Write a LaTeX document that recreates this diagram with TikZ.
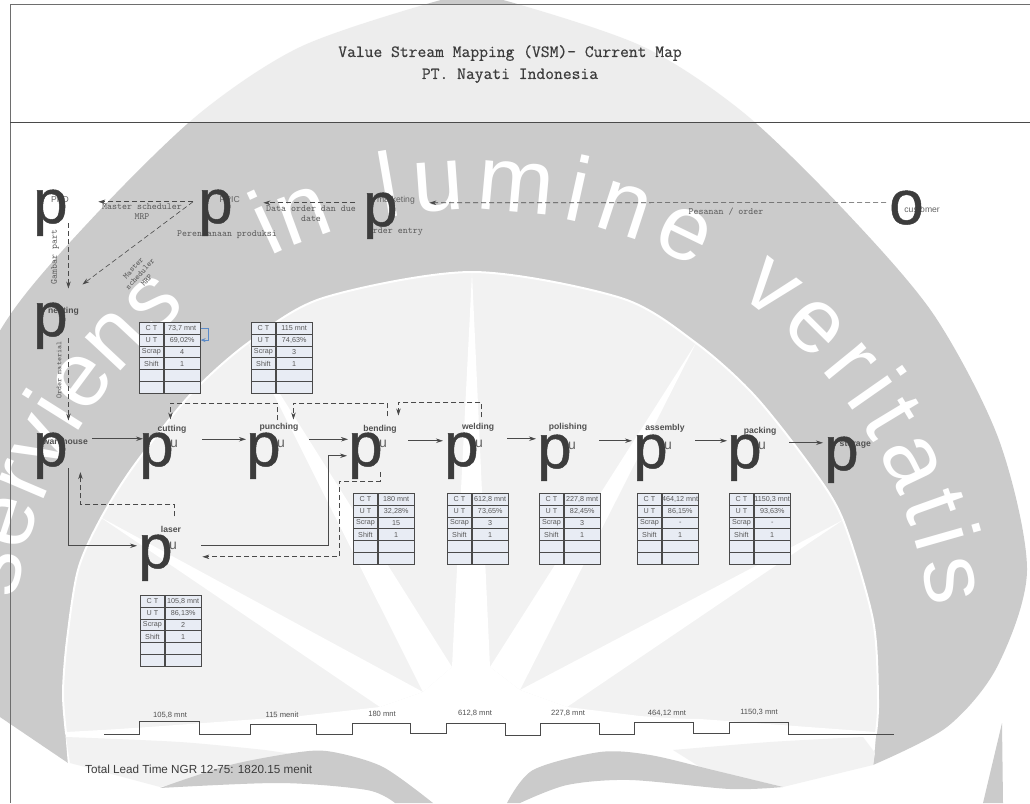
\documentclass[tikz,border=0pt]{standalone}
\usepackage{fontspec}
\setmainfont{Liberation Sans}
\newfontfamily\glyphfont[FakeBold=0.8]{Liberation Sans}
\newfontfamily\titlefont[FakeBold=0.5]{Latin Modern Mono}
\usetikzlibrary{arrows.meta,decorations.text}
\definecolor{wmgray}{HTML}{CBCBCB}
\definecolor{wmlight}{HTML}{F2F2F2}
\definecolor{inkgray}{HTML}{3C3C3C}
\definecolor{linegray}{HTML}{4A4A4A}
\definecolor{cellblue}{HTML}{E8ECF4}
\definecolor{loopblue}{HTML}{5B8BC9}

% one data box: name, top left corner, CT, UT, scrap, shift
\newcommand{\databox}[6]{%
  \foreach \i/\lab/\val in {0/C T/{#3},1/U T/{#4},2/Scrap/{#5},3/Shift/{#6},4//,5//} {
    \node[leftcell, yshift={-11.8*\i}] (#1l\i) at (#2) {\lab};
    \node[rightcell] (#1r\i) at (#1l\i.north east) {\val};
  }%
}
% one word of the crest text on its arc: start angle, end angle, word
\newcommand{\crestword}[3]{%
  \path[decorate, decoration={text along path, text color=white, text align={fit to path}, text={|\fontsize{92}{92}\selectfont|#3}}] ({472+462*cos(#1)},{-672+462*sin(#1)}) arc[start angle=#1, end angle=#2, radius=462];%
}

\begin{document}
\begin{tikzpicture}[
    x=1pt, y=-1pt,
    procglyph/.style={font=\fontsize{62}{62}\glyphfont\selectfont, text=inkgray, inner sep=0pt, anchor=base west},
    procu/.style={font=\fontsize{14}{14}\selectfont, text=inkgray!80, inner sep=0pt, anchor=base west},
    proclabel/.style={font=\fontsize{8.6}{10}\selectfont\bfseries, text=inkgray!90, inner sep=0pt},
    thinlabel/.style={font=\fontsize{8.6}{10}\selectfont, text=inkgray!80, inner sep=0pt},
    monolabel/.style={font=\fontsize{9.5}{9.8}\ttfamily\selectfont, text=inkgray!85, inner sep=0pt, align=center},
    timelabel/.style={font=\fontsize{7.6}{9}\selectfont, text=inkgray!90, inner sep=0pt},
    leftcell/.style={draw=linegray, fill=cellblue, line width=0.8pt, inner sep=0pt, anchor=north west, minimum width=24pt, minimum height=11.8pt, font=\fontsize{7.2}{8}\selectfont, text=inkgray!85},
    rightcell/.style={leftcell, minimum width=36pt},
    flow/.style={draw=linegray, line width=0.8pt, -{Stealth[length=7pt,width=4.5pt]}},
    info/.style={draw=linegray, line width=0.6pt, dash pattern=on 5pt off 3pt, -{Stealth[length=7pt,width=4.5pt]}}
]
\useasboundingbox (0,0) rectangle (1030,803);

% watermark
\fill[wmgray] plot[smooth] coordinates {(-83,570) (-55,440) (10,315) (100,210) (200,113) (300,47) (430,3) (472,-3) (514,3) (644,47) (744,113) (844,210) (934,315) (999,440) (1027,570) (997,667) (947,727) (873,765)} -- (68,763) -- (0,717) -- (-83,660) -- cycle;
\fill[wmgray] (1002,723) -- (983,803) -- (1003,803) -- cycle;
\fill[white] plot[smooth] coordinates {(68,765) (63,693) (67,640) (78,570) (100,520) (133,467) (190,395) (248,343) (323,298) (472,272) (621,298) (696,343) (754,395) (811,467) (843,520) (873,620) (878,700) (873,767)} -- cycle;
\draw[white, line width=2pt, fill=wmlight] plot[smooth] coordinates {(66,733) (63,693) (67,640) (78,570) (100,520) (133,467) (190,395) (248,343) (323,298) (472,272) (621,298) (696,343) (754,395) (811,467) (843,520) (873,620) (878,700) (876,733)} -- (700,720) -- (472,716) -- (300,720) -- cycle;
\fill[white] (472,273) -- (490,667) -- (452,667) -- cycle;
\fill[white] (248,343) -- (452,667) -- (423,692) -- cycle;
\fill[white] (100,517) -- (423,692) -- (380,707) -- cycle;
\fill[white] (696,343) -- (520,690) -- (490,667) -- cycle;
\fill[white] (843,520) -- (520,690) -- (567,707) -- cycle;
\fill[white] (380,707) -- (423,692) -- (452,667) -- (490,667) -- (520,690) -- (567,707) -- (640,716) -- (300,716) -- cycle;
\fill[white] (66,733) -- (300,716) -- (640,716) -- (876,733) -- (870,745) -- (472,745) -- (70,740) -- cycle;
\fill[wmlight] plot[smooth] coordinates {(66,737) (180,742) (265,750)} -- (300,755) -- (160,787) -- (70,763) -- cycle;
\fill[wmlight] plot[smooth] coordinates {(673,750) (770,742) (863,737)} -- (875,753) -- (873,765) -- (783,787) -- (700,767) -- cycle;
\fill[wmgray] plot[smooth] coordinates {(160,788) (230,765) (300,752) (333,752) (383,767) (433,803)} -- (395,803) -- plot[smooth] coordinates {(395,803) (367,790) (280,783) (160,788)} -- cycle;
\fill[wmgray] plot[smooth] coordinates {(507,803) (533,770) (600,752) (650,755) (713,770) (783,787)} -- plot[smooth] coordinates {(783,787) (730,789) (630,780) (567,785) (520,803)} -- cycle;
\begin{scope}[y=1pt]
\crestword{171}{128}{serviens}
\crestword{116}{107}{in}
\crestword{101}{61}{lumine}
\crestword{55}{8}{veritatis}
\end{scope}
\fill[white, opacity=.67] (10,4) rectangle (1030,122);

% frame and title
\draw[linegray!80, line width=0.9pt] (1030,4) -- (10,4) -- (10,803);
\draw[linegray, line width=0.9pt] (10,122) -- (1030,122);
\node[font=\fontsize{17.1}{22}\titlefont\selectfont, text=inkgray, align=center, inner sep=0pt] (title) at (510,64) {Value Stream Mapping (VSM)- Current Map\\PT. Nayati Indonesia};

% labels under the big letters
\node[thinlabel, anchor=east] (ppdlabel) at (69,200) {PPD};
\node[thinlabel, anchor=east] (ppiclabel) at (240,200) {PPIC};
\node[thinlabel, anchor=east] (marketinglabel) at (415,200) {marketing};
\node[thinlabel, anchor=east] (customerlabel) at (940,210) {customer};
\node[proclabel, anchor=east] (nestinglabel) at (79,311) {nesting};
\node[proclabel, anchor=east] (warehouselabel) at (88,441) {warehouse};
\node[proclabel, anchor=east] (storagelabel) at (871,445) {storage};
\node[monolabel] (mrplabel) at (142,212) {Master scheduler\\MRP};
\node[monolabel] (datalabel) at (311,214) {Data order dan due\\date};
\node[monolabel] (planlabel) at (227,235) {Perencanaan produksi};
\node[monolabel, anchor=east] (entrylabel) at (423,232) {order entry};
\node[monolabel] (orderlabel) at (726,212) {Pesanan / order};
\node[monolabel, rotate=90] (partlabel) at (55,257) {Gambar part};
\node[monolabel, rotate=90, font=\fontsize{7.6}{8}\ttfamily\selectfont] (materiallabel) at (59,370) {Order material};
\node[monolabel, rotate=48, font=\fontsize{8.2}{9}\ttfamily\selectfont] (mrpslant) at (140,274) {Master\\scheduler\\MRP};

% stations
\node[procglyph] (ppd) at (33,223) {p};
\node[procglyph] (ppic) at (198,223) {p};
\node[procglyph] (marketing) at (363,226) {p};
\node[procglyph] (customer) at (889,224) {o};
\node[procglyph] (nesting) at (33,336) {p};
\node[procglyph] (warehouse) at (33,466) {p};
\node[procglyph] (storage) at (824,470) {p};
\foreach \name/\x/\y/\lx/\ly in {cutting/139/466/172/429, punching/246/466/279/427, bending/348/466/380/429, welding/444/466/478/427, polishing/537/468/568/427, assembly/633/468/665/428, packing/727/468/760/431, laser/138/568/171/529} {
    \node[proclabel] (\name label) at (\lx,\ly) {\name};
    \node[procglyph] (\name) at (\x,\y) {p};
    \node[procu] (\name u) at ([shift={(31,-19)}]\name.base west) {u};
}

% data boxes
\databox{nestbox}{139,322}{73,7 mnt}{69,02\%}{4}{1}
\databox{cutbox}{251,322}{115 mnt}{74,63\%}{3}{1}
\databox{laserbox}{140,595}{105,8 mnt}{86,13\%}{2}{1}
\databox{bendbox}{353,493}{180 mnt}{32,28\%}{15}{1}
\databox{weldbox}{447,493}{612,8 mnt}{73,65\%}{3}{1}
\databox{polbox}{539,493}{227,8 mnt}{82,45\%}{3}{1}
\databox{asmbox}{637,493}{464,12 mnt}{86,15\%}{-}{1}
\databox{packbox}{729,493}{1150,3 mnt}{93,63\%}{-}{1}
\draw[loopblue, line width=0.9pt, -{Stealth[length=5pt,width=4pt]}] (nestboxr0.east) -- ++(8,0) |- (nestboxr1.east);

% material flow
\foreach \a/\b/\sx/\sy/\ex/\ey in {warehouse/cutting/24.5/-17/4/-17, cutting/punching/28.5/-16.5/0/-16.5, punching/bending/28.5/-16.5/0/-16.5, bending/welding/25.5/-15/-1/-15, welding/polishing/28.5/-17/-1/-19, polishing/assembly/27.5/-17/-1/-17, assembly/packing/27.5/-17/0/-17, packing/storage/27.5/-15/-1/-17} {
    \draw[flow] ([shift={(\sx,\sy)}]\a.east) -- ([shift={(\ex,\ey)}]\b.west);
}
\draw[flow] ([shift={(18,-11)}]warehouse.south) |- ([shift={(-1,-12)}]laser.west);
\draw[flow] ([shift={(28.5,-12)}]laser.east) -| ([xshift=-20pt]bending.west) -- ([xshift=-1pt]bending.west);

% information flow
\draw[info] ([shift={(15,-7)}]bending.south) -- ++(0,9) -- ++(-41,0) |- ([shift={(29.5,-1)}]laser.east);
\draw[info] ([shift={(19,-18)}]laser.north) -- ++(0,-12) -| ([shift={(30,-7)}]warehouse.south);
\draw[info] ([shift={(14,-12)}]punching.north) -- ++(0,-17) -| ([shift={(14,-13)}]cutting.north);
\draw[info] ([shift={(22,-16)}]bending.north) -- ++(0,-13) -| ([shift={(30,-13)}]punching.north);
\draw[info] ([shift={(20,-15)}]welding.north) -- ++(0,-15) -| ([shift={(33,-17)}]bending.north);
\draw[info] ([shift={(-3,-5)}]customer.west) -- ([shift={(31.5,-13)}]marketing.east);
\draw[info] ([shift={(-8,-13)}]marketing.west) -- ([shift={(30.5,-10)}]ppic.east);
\draw[info] ([shift={(-5,-11)}]ppic.west) -- ([shift={(30.5,-11)}]ppd.east);
\draw[info] ([shift={(-5,-11)}]ppic.west) -- ([shift={(32,-18)}]nesting.north);
\draw[info] ([shift={(18,-13)}]ppd.south) -- ([shift={(18,-14)}]nesting.north);
\draw[info] ([shift={(18,-11)}]nesting.south) -- ([shift={(18,-12)}]warehouse.north);

% timeline
\draw[linegray, line width=0.9pt] (104,734) -- (139,734) -- (139,721) -- (199,721) -- (199,734) -- (250,734) -- (250,724) -- (316,724) -- (316,734) -- (352,734) -- (352,723) -- (410,723) -- (410,733) -- (446,733) -- (446,723) -- (505,723) -- (505,735) -- (540,735) -- (540,723) -- (599,723) -- (599,734) -- (634,734) -- (634,722) -- (693,722) -- (693,733) -- (729,733) -- (729,722) -- (788,722) -- (788,734) -- (894,734);
\foreach \n/\x/\y/\t in {a/170/715/{105,8 mnt}, b/282/715/115 menit, c/382/714/180 mnt, d/475/713/{612,8 mnt}, e/568/713/{227,8 mnt}, f/667/713/{464,12 mnt}, g/759/712/{1150,3 mnt}} {
    \node[timelabel] (time\n) at (\x,\y) {\t};
}
\node[font=\fontsize{11.7}{14}\selectfont, text=inkgray, anchor=west, inner sep=0pt] (total) at (85,769) {Total Lead Time NGR 12-75: 1820.15 menit};
\end{tikzpicture}
\end{document}
